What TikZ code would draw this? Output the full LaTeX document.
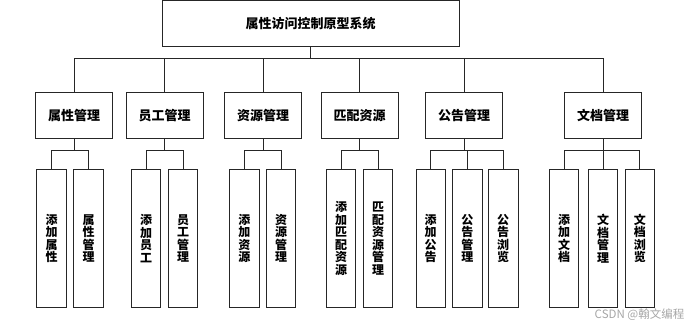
\documentclass[tikz,border=0pt]{standalone}
\usepackage{fontspec}
\newfontfamily\cjk{Noto Sans CJK SC}
\usetikzlibrary{positioning, calc}
\begin{document}
\begin{tikzpicture}[x=1pt, y=-1pt, line width=0.8pt, draw=black!85,
    every node/.style={draw, inner sep=0pt, font=\cjk\bfseries\fontsize{13}{15}\selectfont},
    box/.style={minimum width=77pt, minimum height=46pt},
    leaf/.style={minimum width=29.5pt, minimum height=138.4pt, align=center,
        font=\cjk\bfseries\fontsize{12}{12.5}\selectfont}]
    \useasboundingbox (0,0) rectangle (695,330);
    \node[minimum width=297pt, minimum height=46pt] (root) at (310.5,23.4) {属性访问控制原型系统};
    \foreach \n/\x/\t in {a/74/属性管理, b/164.5/员工管理, c/263/资源管理,
            d/359.5/匹配资源, e/464/公告管理, f/603/文档管理}{
        \node[box] (\n) at (\x,115.7) {\t};
        \draw (root.south) -- ++(0,11.3) -| (\n.north);
    }
    \foreach \n/\p/\x/\t in {a1/a/51.5/{添\\加\\属\\性}, a2/a/88.5/{属\\性\\管\\理},
            b1/b/146/{添\\加\\员\\工}, b2/b/183/{员\\工\\管\\理},
            c1/c/244.3/{添\\加\\资\\源}, c2/c/281/{资\\源\\管\\理},
            d1/d/341/{添\\加\\匹\\配\\资\\源}, d2/d/378/{匹\\配\\资\\源\\管\\理},
            e1/e/430.7/{添\\加\\公\\告}, e2/e/467.3/{公\\告\\管\\理}, e3/e/503.2/{公\\告\\浏\\览},
            f1/f/564/{添\\加\\文\\档}, f2/f/603/{文\\档\\管\\理}, f3/f/639.8/{文\\档\\浏\\览}}{
        \node[leaf] (\n) at (\x,238.5) {\t};
        \draw (\p.south) -- ++(0,11.3) -| (\n.north);
    }
    \node[draw=none, text=black!35, font=\cjk\fontsize{11.5}{13}\selectfont] (mark) at (639.5,315) {CSDN @翰文编程};
\end{tikzpicture}
\end{document}
